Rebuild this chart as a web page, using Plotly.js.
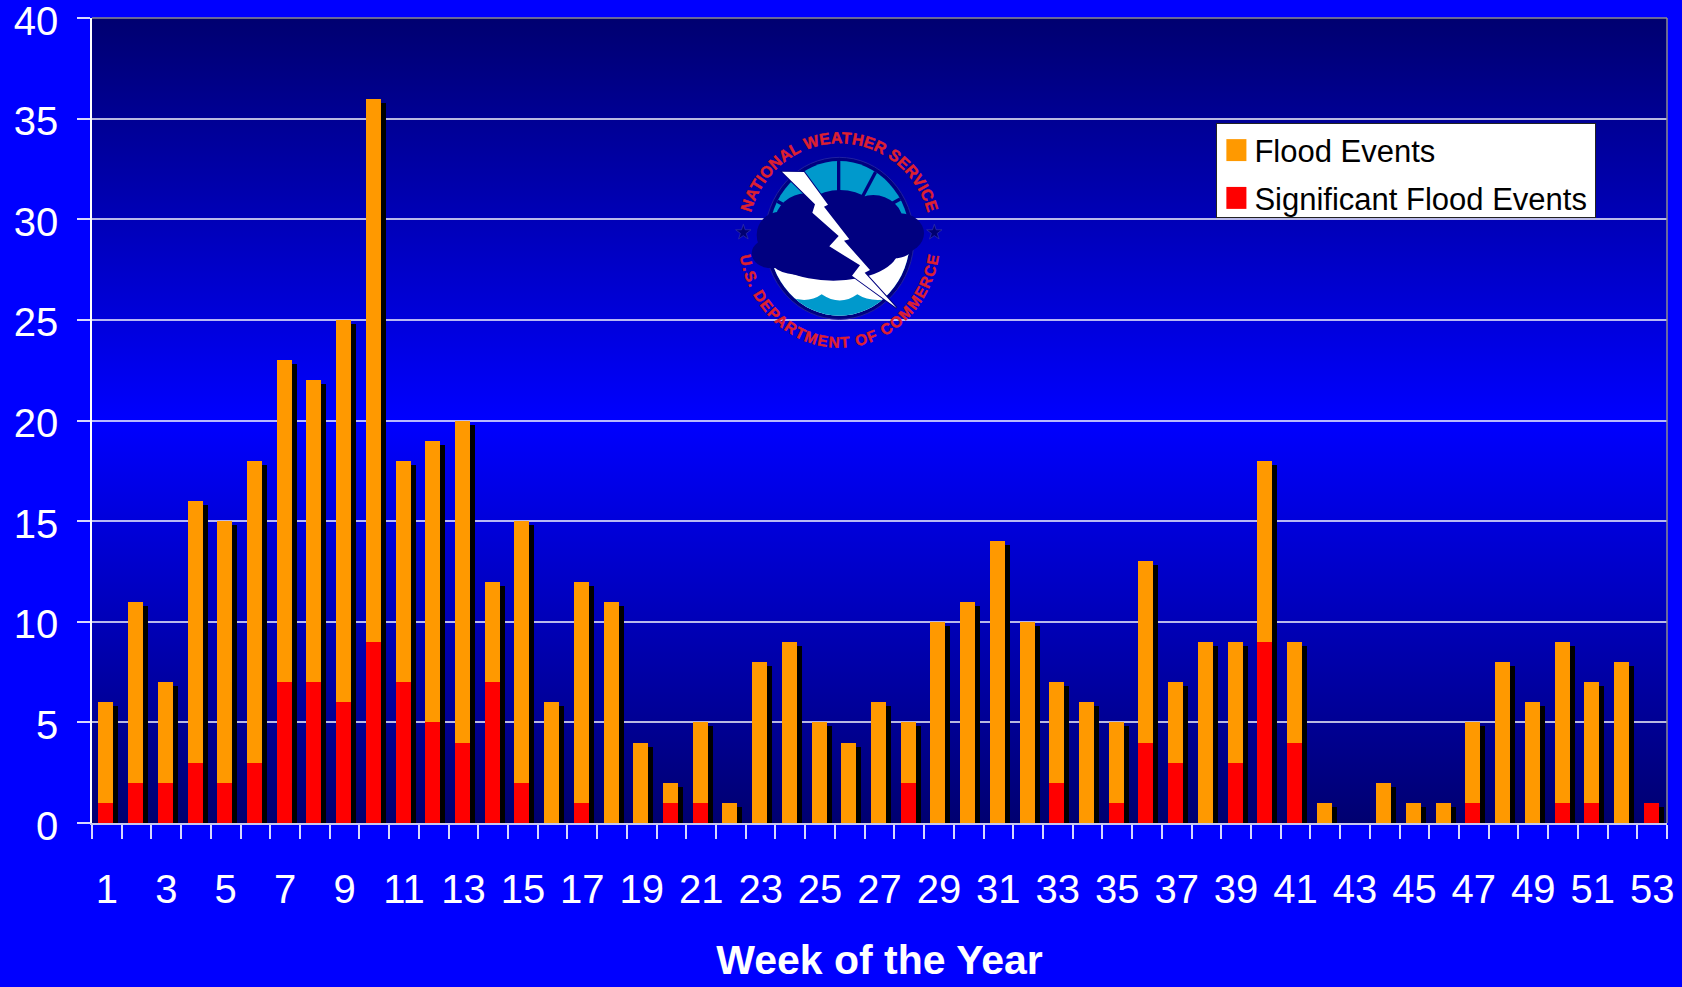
<!DOCTYPE html>
<html>
<head>
<meta charset="utf-8">
<script src="https://cdn.plot.ly/plotly-3.0.1.min.js"></script>
<style>
html,body{margin:0;padding:0;background:#0000ff;overflow:hidden}
#wrap{position:relative;width:1682px;height:987px}
#chart{position:absolute;left:0;top:0;width:1682px;height:987px}
#logo{position:absolute;left:700px;top:110px;width:260px;height:250px;pointer-events:none}
</style>
</head>
<body>
<div id="wrap">
<div id="chart"></div>
<svg id="logo" viewBox="0 0 780 750" xmlns="http://www.w3.org/2000/svg">
  <defs>
    <clipPath id="inner"><ellipse cx="418" cy="385" rx="212" ry="232"/></clipPath>
    <path id="arcTop" d="M143,385 A275,285 0 0 1 693,385"/>
    <path id="arcBot" d="M116,385 A302,328 0 0 0 720,385"/>
  </defs>
  <ellipse cx="418" cy="385" rx="224" ry="243" fill="#000080" stroke="#2020a0" stroke-width="3"/>
  <g clip-path="url(#inner)">
    <rect x="190" y="140" width="460" height="490" fill="#0099cc"/>
    <path d="M190,440 L650,420 L650,640 L190,640 Z" fill="#ffffff"/>
    <path d="M270,562 Q325,582 365,553 Q420,590 472,553 Q510,578 570,566 L570,640 L270,640 Z" fill="#0099cc"/>
    <g stroke="#000080" stroke-width="10">
      <line x1="416" y1="140" x2="416" y2="260"/>
      <line x1="530" y1="180" x2="485" y2="265"/>
      <line x1="610" y1="262" x2="550" y2="295"/>
      <line x1="225" y1="270" x2="290" y2="305"/>
    </g>
  </g>
  <g fill="#000080">
    <ellipse cx="240" cy="375" rx="70" ry="70"/>
    <ellipse cx="215" cy="430" rx="60" ry="45"/>
    <ellipse cx="320" cy="335" rx="95" ry="85"/>
    <ellipse cx="420" cy="330" rx="120" ry="90"/>
    <ellipse cx="520" cy="340" rx="90" ry="85"/>
    <ellipse cx="600" cy="370" rx="72" ry="60"/>
    <ellipse cx="580" cy="410" rx="60" ry="35"/>
    <ellipse cx="400" cy="420" rx="195" ry="92"/>
    <ellipse cx="300" cy="440" rx="95" ry="55"/>
  </g>
  <path d="M246,185 L312,186 L384,284 L372,290 L448,388 L432,392 L510,480 L494,488 L590,594 L456,497 L480,466 L388,409 L416,378 L337,308 L345,283 Z" fill="#ffffff" stroke="#000080" stroke-width="6" stroke-linejoin="miter" paint-order="stroke"/>
  <path transform="translate(130,367) scale(1.1)" d="M0,-22 L5,-7 L21,-7 L8,3 L13,18 L0,9 L-13,18 L-8,3 L-21,-7 L-5,-7Z" fill="#000070" stroke="#3030b0" stroke-width="2"/>
  <path transform="translate(703,367) scale(1.1)" d="M0,-22 L5,-7 L21,-7 L8,3 L13,18 L0,9 L-13,18 L-8,3 L-21,-7 L-5,-7Z" fill="#000070" stroke="#3030b0" stroke-width="2"/>
  <g font-family="Liberation Sans, Arial, sans-serif" font-weight="bold" fill="#dd2030" stroke="#dd2030" stroke-width="1.5">
    <text font-size="48"><textPath href="#arcTop" startOffset="50%" text-anchor="middle" textLength="725" lengthAdjust="spacing">NATIONAL WEATHER SERVICE</textPath></text>
    <text font-size="46"><textPath href="#arcBot" startOffset="50%" text-anchor="middle" textLength="885" lengthAdjust="spacing">U.S. DEPARTMENT OF COMMERCE</textPath></text>
  </g>
</svg>
</div>
<script>
const weeks = [1,2,3,4,5,6,7,8,9,10,11,12,13,14,15,16,17,18,19,20,21,22,23,24,25,26,27,28,29,30,31,32,33,34,35,36,37,38,39,40,41,42,43,44,45,46,47,48,49,50,51,52,53];
const floodEvents = [6,11,7,16,15,18,23,22,25,36,18,19,20,12,15,6,12,11,4,2,5,1,8,9,5,4,6,5,10,11,14,10,7,6,5,13,7,9,9,18,9,1,0,2,1,1,5,8,6,9,7,8,1];
const significantEvents = [1,2,2,3,2,3,7,7,6,9,7,5,4,7,2,0,1,0,0,1,1,0,0,0,0,0,0,2,0,0,0,0,2,0,1,4,3,0,3,9,4,0,0,0,0,0,1,0,0,1,1,0,1];
const xTickVals = [1,3,5,7,9,11,13,15,17,19,21,23,25,27,29,31,33,35,37,39,41,43,45,47,49,51,53];
const yTickVals = [0,5,10,15,20,25,30,35,40];

const FONT = '"Liberation Sans", Arial, sans-serif';
const gradientSvg = '<svg xmlns="http://www.w3.org/2000/svg" width="100" height="100" preserveAspectRatio="none">' +
  '<defs><linearGradient id="g" x1="0" y1="0" x2="0" y2="1">' +
  '<stop offset="0" stop-color="#000070"/><stop offset="0.5" stop-color="#0000ff"/><stop offset="1" stop-color="#000070"/>' +
  '</linearGradient></defs><rect width="100" height="100" fill="url(#g)"/></svg>';

const barOffset = -0.285, barWidth = 0.505;
const traces = [
  {type:'bar', x:weeks, y:floodEvents, base:-0.2, offset:barOffset+0.168, width:barWidth,
   marker:{color:'#000000', line:{width:0}}, showlegend:false, hoverinfo:'skip'},
  {type:'bar', name:'Flood Events', legendgroup:'a', x:weeks, y:floodEvents, offset:barOffset, width:barWidth,
   marker:{color:'#ff9900', line:{width:0}}},
  {type:'bar', name:'Significant Flood Events', legendgroup:'b', x:weeks, y:significantEvents, offset:barOffset, width:barWidth,
   marker:{color:'#ff0000', line:{width:0}}}
];

const layout = {
  width:1682, height:987,
  margin:{l:91.5, r:14.5, t:17.5, b:164, pad:0, autoexpand:false},
  paper_bgcolor:'#0000ff', plot_bgcolor:'rgba(0,0,0,0)',
  barmode:'overlay', bargap:0,
  font:{family:FONT, color:'#ffffff', size:40},
  images:[{source:'data:image/svg+xml;base64,'+btoa(gradientSvg), xref:'paper', yref:'paper', x:0, y:1, sizex:1, sizey:1, sizing:'stretch', layer:'below', xanchor:'left', yanchor:'top'}],
  xaxis:{
    type:'linear', range:[0.5,53.5], fixedrange:true,
    tickmode:'array', tickvals:xTickVals, ticktext:xTickVals.map(String),
    ticks:'outside', ticklen:30, tickcolor:'rgba(0,0,0,0)', tickwidth:1,
    tickfont:{family:FONT, size:40, color:'#ffffff'}, tickangle:0, ticklabeloverflow:'allow',
    minor:{tickmode:'linear', tick0:0.5, dtick:1, ticks:'outside', ticklen:14, tickcolor:'#d8d8ff', tickwidth:1.5, showgrid:false},
    showgrid:false, zeroline:false, showline:true, linecolor:'#c8c8ee', linewidth:2, layer:'above traces',
    title:{text:'Week of the Year', font:{family:FONT, size:41, color:'#ffffff', weight:'bold'}, standoff:35}
  },
  yaxis:{
    range:[0,40], fixedrange:true, tickmode:'array', tickvals:yTickVals, ticktext:yTickVals.map(String),
    ticks:'outside', ticklen:13, tickcolor:'#d8d8ff', tickwidth:1.5, ticklabelstandoff:11, ticklabeloverflow:'allow',
    tickfont:{family:FONT, size:40, color:'#ffffff'},
    showgrid:true, gridcolor:'rgba(255,255,255,0.72)', gridwidth:1.5, zeroline:false,
    showline:true, linecolor:'#ffffff', linewidth:1.5
  },
  shapes:[
    {type:'line', xref:'paper', yref:'paper', x0:1, x1:1, y0:0, y1:1, line:{color:'#8c8c8c', width:1.5}},
    {type:'line', xref:'paper', yref:'paper', x0:0, x1:1, y0:1, y1:1, line:{color:'#8c8c8c', width:1.5}}
  ],
  legend:{
    x:0.7139, y:0.869, xanchor:'left', yanchor:'top', bgcolor:'#ffffff', bordercolor:'#222222', borderwidth:1,
    font:{family:FONT, size:31, color:'#000000'}, traceorder:'normal', itemclick:false, itemdoubleclick:false,
    itemwidth:30, tracegroupgap:12
  },
  showlegend:true
};

Plotly.newPlot('chart', traces, layout, {displayModeBar:false, responsive:false}).then(function(gd){
  gd.querySelectorAll('.legendpoints path').forEach(function(p){
    p.setAttribute('transform','translate(19,0) scale(1.67,1.83)');
    p.style.strokeWidth='0';
  });
  gd.querySelectorAll('.legendtext').forEach(function(t){
    t.setAttribute('x', parseFloat(t.getAttribute('x'))-3);
  });
  const bg = gd.querySelector('.legend rect.bg');
  if (bg) bg.setAttribute('height', 94);
  const box = gd.querySelector('.legend .scrollbox');
  if (box) { box.removeAttribute('clip-path'); box.setAttribute('transform','translate(0,-1)'); }
  const rows = gd.querySelectorAll('.legend .traces');
  if (rows[1]) rows[1].setAttribute('transform', rows[1].getAttribute('transform')+' translate(0,4.5)');
  gd.querySelectorAll('.ytick text').forEach(function(t){
    t.setAttribute('y', parseFloat(t.getAttribute('y'))+2.5);
  });
});
</script>
</body>
</html>
